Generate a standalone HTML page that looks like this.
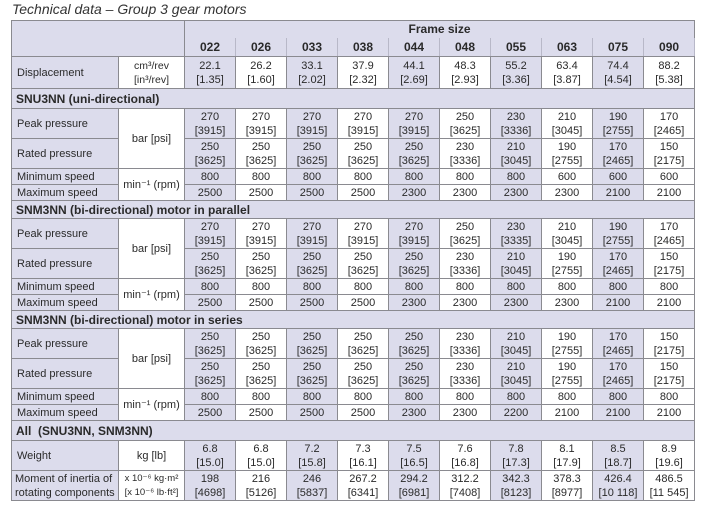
<!DOCTYPE html>
<html><head><meta charset="utf-8"><style>
body{margin:0;background:#fff;width:720px;height:510px;overflow:hidden;font-family:"Liberation Sans",sans-serif;color:#2a2a2a}
.t{position:absolute;left:12px;top:1px;font-style:italic;font-size:14px;color:#333}
table{position:absolute;left:11px;top:20px;border-collapse:collapse;table-layout:fixed;width:683px;font-size:11px}
td{border:1px solid #8a8a90;padding:0;text-align:center;line-height:14px;overflow:hidden;white-space:nowrap}
td.l{text-align:left;padding-left:5px;background:#dcdcec}
td.u{background:#fff}
td.s{text-align:left;padding-left:4px;background:#dcdcec;font-weight:bold;font-size:12px}
.a{background:#dcdcec}
.h{background:#dcdcec;font-weight:bold;font-size:12px}
tr.fs td{border-bottom:none}
tr.nm td.h{border-top:none;border-left-color:#b8b8c8;border-right-color:#b8b8c8}
</style></head><body>
<div class="t">Technical data – Group 3 gear motors</div>
<table>
<colgroup><col style="width:107px"><col style="width:66px"><col span="10" style="width:51px"></colgroup>
<tr class="fs" style="height:17px"><td class="h" colspan="2" rowspan="2"></td><td class="h" colspan="10">Frame size</td></tr>
<tr class="nm" style="height:19px"><td class="h">022</td><td class="h">026</td><td class="h">033</td><td class="h">038</td><td class="h">044</td><td class="h">048</td><td class="h">055</td><td class="h">063</td><td class="h">075</td><td class="h">090</td></tr>
<tr style="height:32px"><td class="l">Displacement</td><td class="u" style="font-size:10.5px">cm³/rev<br>[in³/rev]</td><td class="a">22.1<br>[1.35]</td><td>26.2<br>[1.60]</td><td class="a">33.1<br>[2.02]</td><td>37.9<br>[2.32]</td><td class="a">44.1<br>[2.69]</td><td>48.3<br>[2.93]</td><td class="a">55.2<br>[3.36]</td><td>63.4<br>[3.87]</td><td class="a">74.4<br>[4.54]</td><td>88.2<br>[5.38]</td></tr>
<tr style="height:20px"><td class="s" colspan="12">SNU3NN (uni-directional)</td></tr>
<tr style="height:30px"><td class="l">Peak pressure</td><td class="u" rowspan="2">bar [psi]</td><td class="a">270<br>[3915]</td><td>270<br>[3915]</td><td class="a">270<br>[3915]</td><td>270<br>[3915]</td><td class="a">270<br>[3915]</td><td>250<br>[3625]</td><td class="a">230<br>[3336]</td><td>210<br>[3045]</td><td class="a">190<br>[2755]</td><td>170<br>[2465]</td></tr>
<tr style="height:30px"><td class="l">Rated pressure</td><td class="a">250<br>[3625]</td><td>250<br>[3625]</td><td class="a">250<br>[3625]</td><td>250<br>[3625]</td><td class="a">250<br>[3625]</td><td>230<br>[3336]</td><td class="a">210<br>[3045]</td><td>190<br>[2755]</td><td class="a">170<br>[2465]</td><td>150<br>[2175]</td></tr>
<tr style="height:16px"><td class="l">Minimum speed</td><td class="u" rowspan="2">min⁻¹ (rpm)</td><td class="a">800</td><td>800</td><td class="a">800</td><td>800</td><td class="a">800</td><td>800</td><td class="a">800</td><td>600</td><td class="a">600</td><td>600</td></tr>
<tr style="height:16px"><td class="l">Maximum speed</td><td class="a">2500</td><td>2500</td><td class="a">2500</td><td>2500</td><td class="a">2300</td><td>2300</td><td class="a">2300</td><td>2300</td><td class="a">2100</td><td>2100</td></tr>
<tr style="height:18px"><td class="s" colspan="12">SNM3NN (bi-directional) motor in parallel</td></tr>
<tr style="height:30px"><td class="l">Peak pressure</td><td class="u" rowspan="2">bar [psi]</td><td class="a">270<br>[3915]</td><td>270<br>[3915]</td><td class="a">270<br>[3915]</td><td>270<br>[3915]</td><td class="a">270<br>[3915]</td><td>250<br>[3625]</td><td class="a">230<br>[3335]</td><td>210<br>[3045]</td><td class="a">190<br>[2755]</td><td>170<br>[2465]</td></tr>
<tr style="height:30px"><td class="l">Rated pressure</td><td class="a">250<br>[3625]</td><td>250<br>[3625]</td><td class="a">250<br>[3625]</td><td>250<br>[3625]</td><td class="a">250<br>[3625]</td><td>230<br>[3336]</td><td class="a">210<br>[3045]</td><td>190<br>[2755]</td><td class="a">170<br>[2465]</td><td>150<br>[2175]</td></tr>
<tr style="height:16px"><td class="l">Minimum speed</td><td class="u" rowspan="2">min⁻¹ (rpm)</td><td class="a">800</td><td>800</td><td class="a">800</td><td>800</td><td class="a">800</td><td>800</td><td class="a">800</td><td>800</td><td class="a">800</td><td>800</td></tr>
<tr style="height:16px"><td class="l">Maximum speed</td><td class="a">2500</td><td>2500</td><td class="a">2500</td><td>2500</td><td class="a">2300</td><td>2300</td><td class="a">2300</td><td>2300</td><td class="a">2100</td><td>2100</td></tr>
<tr style="height:18px"><td class="s" colspan="12">SNM3NN (bi-directional) motor in series</td></tr>
<tr style="height:30px"><td class="l">Peak pressure</td><td class="u" rowspan="2">bar [psi]</td><td class="a">250<br>[3625]</td><td>250<br>[3625]</td><td class="a">250<br>[3625]</td><td>250<br>[3625]</td><td class="a">250<br>[3625]</td><td>230<br>[3336]</td><td class="a">210<br>[3045]</td><td>190<br>[2755]</td><td class="a">170<br>[2465]</td><td>150<br>[2175]</td></tr>
<tr style="height:30px"><td class="l">Rated pressure</td><td class="a">250<br>[3625]</td><td>250<br>[3625]</td><td class="a">250<br>[3625]</td><td>250<br>[3625]</td><td class="a">250<br>[3625]</td><td>230<br>[3336]</td><td class="a">210<br>[3045]</td><td>190<br>[2755]</td><td class="a">170<br>[2465]</td><td>150<br>[2175]</td></tr>
<tr style="height:16px"><td class="l">Minimum speed</td><td class="u" rowspan="2">min⁻¹ (rpm)</td><td class="a">800</td><td>800</td><td class="a">800</td><td>800</td><td class="a">800</td><td>800</td><td class="a">800</td><td>800</td><td class="a">800</td><td>800</td></tr>
<tr style="height:16px"><td class="l">Maximum speed</td><td class="a">2500</td><td>2500</td><td class="a">2500</td><td>2500</td><td class="a">2300</td><td>2300</td><td class="a">2200</td><td>2100</td><td class="a">2100</td><td>2100</td></tr>
<tr style="height:20px"><td class="s" colspan="12">All &nbsp;(SNU3NN, SNM3NN)</td></tr>
<tr style="height:30px"><td class="l">Weight</td><td class="u">kg [lb]</td><td class="a">6.8<br>[15.0]</td><td>6.8<br>[15.0]</td><td class="a">7.2<br>[15.8]</td><td>7.3<br>[16.1]</td><td class="a">7.5<br>[16.5]</td><td>7.6<br>[16.8]</td><td class="a">7.8<br>[17.3]</td><td>8.1<br>[17.9]</td><td class="a">8.5<br>[18.7]</td><td>8.9<br>[19.6]</td></tr>
<tr style="height:30px"><td class="l" style="padding-left:3px">Moment of inertia of<br>rotating components</td><td class="u" style="font-size:9.5px">x 10⁻⁶ kg·m²<br>[x 10⁻⁶ lb·ft²]</td><td class="a">198<br>[4698]</td><td>216<br>[5126]</td><td class="a">246<br>[5837]</td><td>267.2<br>[6341]</td><td class="a">294.2<br>[6981]</td><td>312.2<br>[7408]</td><td class="a">342.3<br>[8123]</td><td>378.3<br>[8977]</td><td class="a">426.4<br>[10 118]</td><td>486.5<br>[11 545]</td></tr>
</table>
</body></html>
